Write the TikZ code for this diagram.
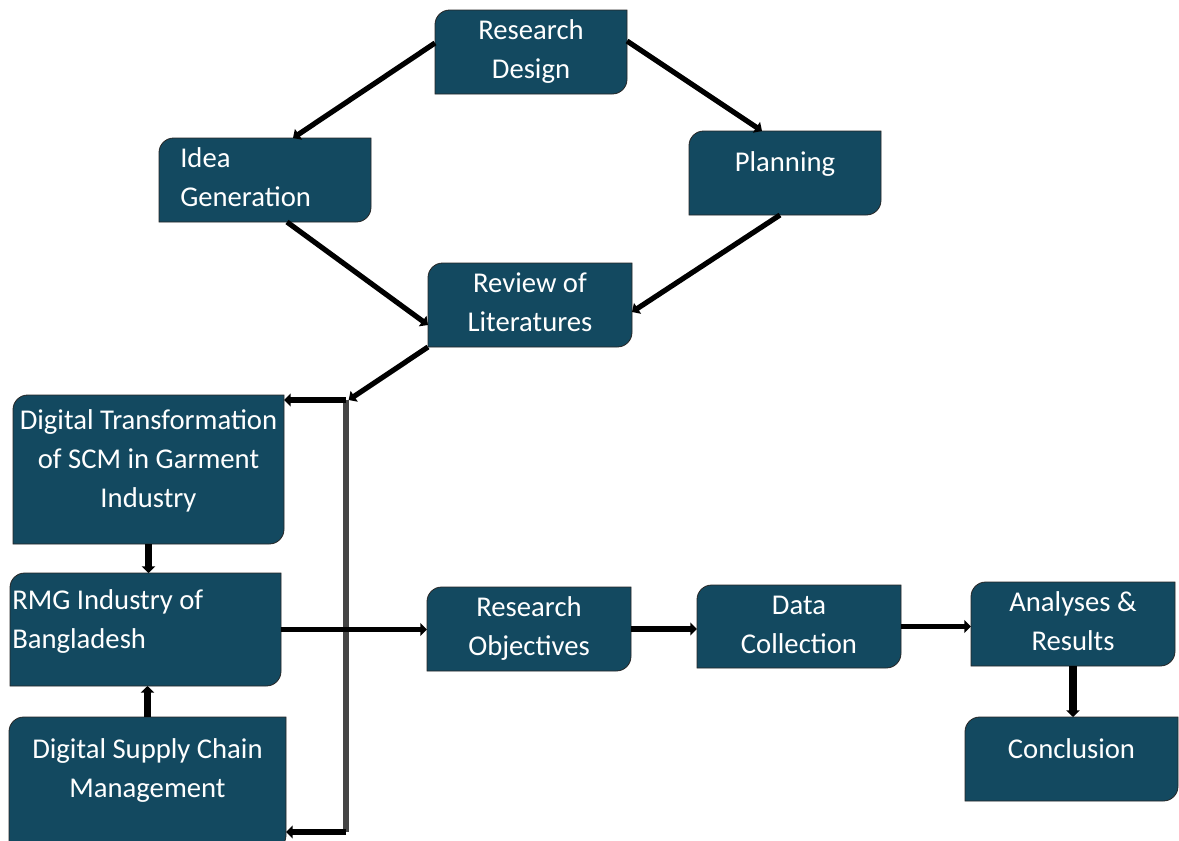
\documentclass[tikz,border=0pt]{standalone}
\usepackage{fontspec}
\setmainfont{Carlito}
\usepackage{tikz}
\usetikzlibrary{arrows.meta}
\definecolor{stageblue}{HTML}{134960}
\definecolor{busgray}{HTML}{454545}
\newcommand{\stagefont}{\fontsize{21.5pt}{29.25pt}\selectfont}
\pgfdeclarelayer{background}
\pgfsetlayers{background,main}

\tikzset{
  stage/.style={inner sep=0pt, outer sep=0pt},
  stagetext/.style={anchor=north, inner sep=0pt, text=white, align=center, font=\stagefont},
  stagetextleft/.style={anchor=north west, inner sep=0pt, text=white, align=left, font=\stagefont},
  stageshape/.style={fill=stageblue, draw=black!85, line width=0.6pt},
  flow/.style={line width=3.9pt, -{Triangle[length=5pt,width=9.5pt]}},
  thickflow/.style={line width=5.5pt, -{Triangle[length=5pt,width=10pt]}},
  bus/.style={line width=3.8pt, busgray}
}

\begin{document}
\begin{tikzpicture}[x=0.75pt, y=-0.75pt]
    \useasboundingbox (0,0) rectangle (1179,840);

    \node[stage, minimum width=144pt, minimum height=63pt,
      label={[stagetext, yshift=-7pt]north:Research\\Design}] (design) at (531,52) {};
    \node[stage, minimum width=159pt, minimum height=63pt,
      label={[stagetextleft, xshift=15.75pt, yshift=-7pt]north west:Idea\\Generation}] (idea) at (265,180) {};
    \node[stage, minimum width=144pt, minimum height=63pt,
      label={[stagetext, yshift=-15pt]north:Planning}] (planning) at (785,173) {};
    \node[stage, minimum width=153pt, minimum height=63pt,
      label={[stagetext, yshift=-7pt]north:Review of\\Literatures}] (review) at (530,305) {};

    \node[stage, minimum width=203.25pt, minimum height=111.75pt,
      label={[stagetext, yshift=-10.5pt]north:Digital Transformation\\of SCM in Garment\\Industry}] (dtscm) at (148.5,469.5) {};
    \node[stage, minimum width=203.25pt, minimum height=84.75pt,
      label={[stagetextleft, xshift=1.5pt, yshift=-12.5pt]north west:RMG Industry of\\Bangladesh}] (rmg) at (145.5,629.5) {};
    \node[stage, minimum width=207.75pt, minimum height=99.75pt,
      label={[stagetext, yshift=-16pt]north:Digital Supply Chain\\Management}] (dscm) at (147.5,783.5) {};

    \node[stage, minimum width=153pt, minimum height=63pt,
      label={[stagetext, yshift=-7pt]north:Research\\Objectives}] (objectives) at (529,629) {};
    \node[stage, minimum width=153pt, minimum height=62.25pt,
      label={[stagetext, yshift=-7.75pt]north:Data\\Collection}] (data) at (799,626.5) {};
    \node[stage, minimum width=153pt, minimum height=63pt,
      label={[stagetext, yshift=-7pt]north:Analyses \&\\Results}] (analyses) at (1073,624) {};
    \node[stage, minimum width=159.75pt, minimum height=63pt,
      label={[stagetext, yshift=-16pt]north:Conclusion}] (conclusion) at (1071.5,759) {};

    % boxes: round top left and bottom right corners only
    \begin{pgfonlayer}{background}
      \foreach \n in {design,idea,planning,review,dtscm,rmg,dscm,objectives,data,analyses,conclusion}
        \filldraw[stageshape] (\n.south west) [rounded corners=11pt] -- (\n.north west)
          [sharp corners] -- (\n.north east) [rounded corners=11pt] -- (\n.south east)
          [sharp corners] -- cycle;
    \end{pgfonlayer}

    \coordinate (bustop) at (346,400);
    \coordinate (busbot) at (346,832);

    \draw[flow] ([yshift=6.75pt]design.west) -- ([xshift=21pt]idea.north);
    \draw[flow] ([yshift=8.25pt]design.east) -- ([xshift=-17.25pt]planning.north);
    \draw[flow] ([xshift=16.5pt]idea.south) -- ([yshift=-15pt]review.west);
    \draw[flow] ([xshift=-3.75pt]planning.south) -- ([yshift=-5.25pt]review.east);
    \draw[flow] (review.south west) -- ([xshift=2pt]bustop);

    \draw[bus] (bustop) -- (busbot);
    \draw[flow] (bustop) -- (bustop -| dtscm.east);
    \draw[flow] (busbot) -- (busbot -| dscm.east);

    \draw[thickflow] (dtscm.south) -- (dtscm.south |- rmg.north);
    \draw[thickflow] (dscm.north) -- (dscm.north |- rmg.south);
    \draw[flow] (rmg.east) -- (rmg.east -| objectives.west);

    \draw[flow] (objectives.east) -- (objectives.east -| data.west);
    \draw[flow] (data.east) -- (data.east -| analyses.west);
    \draw[thickflow] (analyses.south) -- (analyses.south |- conclusion.north);
\end{tikzpicture}
\end{document}
